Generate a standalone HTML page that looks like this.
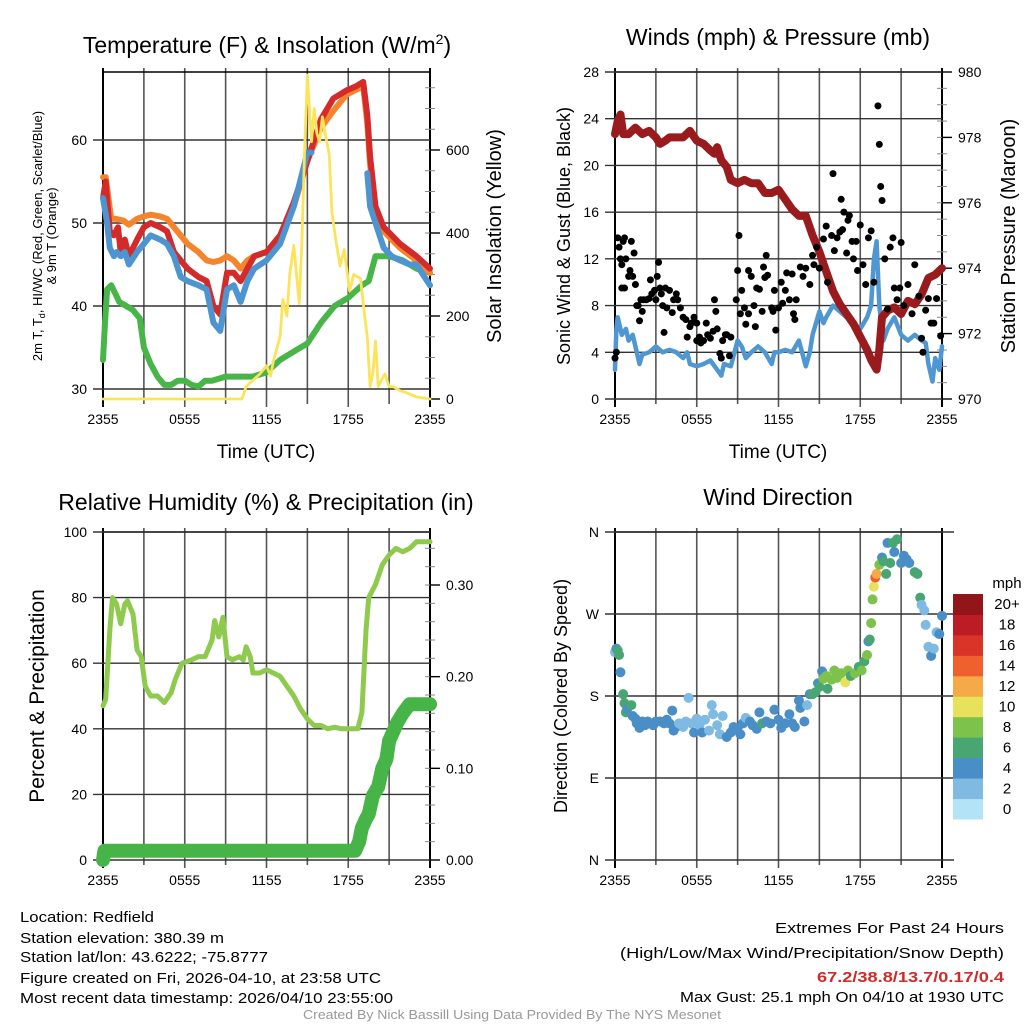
<!DOCTYPE html>
<html><head><meta charset="utf-8"><title>Mesonet Station Meteogram</title>
<style>
html,body{margin:0;padding:0;background:#fff;}
svg{display:block;font-family:"Liberation Sans",sans-serif;}
.nar{font-family:"Liberation Sans Narrow","Liberation Sans",sans-serif;}
</style></head>
<body>
<svg id="fig" width="1024" height="1024" viewBox="0 0 1024 1024" xmlns="http://www.w3.org/2000/svg">
<rect width="1024" height="1024" fill="#fff"/>
<text x="267" y="53" font-size="23" text-anchor="middle">Temperature (F) &amp; Insolation (W/m<tspan font-size="14" dy="-9">2</tspan><tspan dy="9">)</tspan></text>
<text x="778" y="45" font-size="23" text-anchor="middle">Winds (mph) &amp; Pressure (mb)</text>
<text x="266" y="510" font-size="23" text-anchor="middle">Relative Humidity (%) &amp; Precipitation (in)</text>
<text x="778" y="505" font-size="23" text-anchor="middle">Wind Direction</text>

<text transform="translate(42,236) rotate(-90)" font-size="13" text-anchor="middle">2m T, T<tspan font-size="9" dy="3">d</tspan><tspan dy="-3">, HI/WC (Red, Green, Scarlet/Blue)</tspan></text>
<text transform="translate(56,236) rotate(-90)" font-size="13" text-anchor="middle">&amp; 9m T (Orange)</text>
<text transform="translate(501,236) rotate(-90)" font-size="20" text-anchor="middle">Solar Insolation (Yellow)</text>
<text x="266" y="458" font-size="19" text-anchor="middle">Time (UTC)</text>
<text transform="translate(570,236) rotate(-90)" font-size="18" text-anchor="middle">Sonic Wind &amp; Gust (Blue, Black)</text>
<text transform="translate(1015,236) rotate(-90)" font-size="20" text-anchor="middle">Station Pressure (Maroon)</text>
<text x="778" y="458" font-size="19" text-anchor="middle">Time (UTC)</text>
<text transform="translate(44,696) rotate(-90)" font-size="21" text-anchor="middle">Percent &amp; Precipitation</text>
<text transform="translate(567,696) rotate(-90)" font-size="18" text-anchor="middle">Direction (Colored By Speed)</text>
<text x="1007" y="588" font-size="15" text-anchor="middle">mph</text>

<g class="nar" font-size="15">
<text x="20" y="922" textLength="134" lengthAdjust="spacingAndGlyphs">Location: Redfield</text>
<text x="20" y="943" textLength="204" lengthAdjust="spacingAndGlyphs">Station elevation: 380.39 m</text>
<text x="20" y="962" textLength="248" lengthAdjust="spacingAndGlyphs">Station lat/lon: 43.6222; -75.8777</text>
<text x="20" y="983" textLength="361" lengthAdjust="spacingAndGlyphs">Figure created on Fri, 2026-04-10, at 23:58 UTC</text>
<text x="20" y="1003" textLength="373" lengthAdjust="spacingAndGlyphs">Most recent data timestamp: 2026/04/10 23:55:00</text>
</g>
<g class="nar" font-size="15" text-anchor="end">
<text x="1004" y="933" textLength="229" lengthAdjust="spacingAndGlyphs">Extremes For Past 24 Hours</text>
<text x="1004" y="958" textLength="384" lengthAdjust="spacingAndGlyphs">(High/Low/Max Wind/Precipitation/Snow Depth)</text>
<text x="1004" y="982" textLength="187" lengthAdjust="spacingAndGlyphs" fill="#d12a2a" font-weight="bold">67.2/38.8/13.7/0.17/0.4</text>
<text x="1004" y="1002" textLength="324" lengthAdjust="spacingAndGlyphs">Max Gust: 25.1 mph On 04/10 at 1930 UTC</text>
</g>
<text class="nar" x="512" y="1019" font-size="13" fill="#999" text-anchor="middle" textLength="418" lengthAdjust="spacingAndGlyphs">Created By Nick Bassill Using Data Provided By The NYS Mesonet</text>
<g id="plots"></g>
</svg>
<script>
// ---------- DATA ----------
const timeTickLabels = ["2355","0555","1155","1755","2355"];
// Temperature panel
const tRed = [0,0.2,0.5,0.8,1.1,1.3,1.6,1.9,2.5,3.0,3.5,4.2,4.7,5.2,5.7,6.2,7.0,7.6,8.1,8.6,9.1,9.6,10.1,10.6,11.1,12,13,14,15,16,16.9,17.9,18.6,19.1,19.4,19.6,20,20.6,21.2,21.8,23,24];
const vRed = [53,55,49,48.5,49.5,46.5,48,46,48,49.5,50,49.5,49,46.5,45.5,44.5,43.5,43,40,39,44,44,43,44.5,46,46.5,48.5,52.5,57.5,62.5,65,66,66.5,67,63,58,52,49.5,48.5,47.5,46,44.5];
const tOrange = [0,0.2,0.6,0.9,1.5,1.9,2.5,3.0,3.5,4.2,4.7,5.2,5.7,6.2,7.0,7.6,8.1,8.6,9.1,9.6,10.1,10.6,11.1,12,13,14,15,16,16.9,17.9,19.1,19.4,19.6,20,20.6,21.8,23,24];
const vOrange = [55.5,55.5,50.5,50.5,50.3,49.8,50.5,50.8,51,50.8,50.5,49.5,48.5,47.5,46.5,45.5,45.3,45.5,46,45.5,44.5,45.5,46,46.5,48,52,57.5,61.5,63.5,65.5,66.5,62,57,51.5,49,47,45.5,44];
const tBlue = [0,0.3,0.5,0.8,1.0,1.3,1.6,1.9,2.5,3.0,3.5,4.2,4.7,5.2,5.7,6.2,7.0,7.6,8.1,8.6,9.1,9.6,10.1,10.6,11.1,12,13,14,15,15.3,null,19.4,19.6,20,20.6,21.2,21.8,22.5,23,24];
const vBlue = [53,50,47,46,46.5,46,46.5,45,46.5,47.5,48.5,48,47.5,46,43.5,43,42.5,42,38,37,42,42.5,40.5,43,44.5,45.5,47.5,52,58.5,58.5,null,56,52,50,47,46,45.5,45,45,42.5];
const tGreen = [0,0.15,0.3,0.6,0.9,1.2,1.7,2.2,2.7,3.0,3.5,4.0,4.5,5.0,5.5,6.0,6.5,7.0,7.5,8.0,9,10,11,12,13,14,15,16,17,18,19,19.5,20,20.5,21,22,23,24];
const vGreen = [33.5,38,42,42.5,41.5,40.5,40,39.5,38.5,35,33,31.5,30.5,30.5,31,31,30.5,30.3,31,31,31.5,31.5,31.5,32,33.5,34.5,35.5,38,40,41,42.5,43,46,46,46,45.5,44.5,44];
const tSolar = [0,10.2,10.5,11,11.5,12,12.3,12.5,13,13.2,13.5,13.7,14,14.4,14.6,14.8,15,15.3,15.5,15.7,15.9,16.1,16.3,16.6,16.8,17.1,17.4,17.7,18.1,18.4,18.9,19.2,19.4,19.6,19.8,20,20.2,20.5,20.7,21,21.3,21.8,22.3,23,24];
const vSolar = [0,0,30,45,60,80,55,90,150,240,200,300,370,230,380,600,780,620,700,640,620,680,640,590,450,380,320,360,260,300,290,200,150,30,60,140,30,50,60,30,30,20,15,5,0];
// Wind panel
const tWind = [0,0.1,0.2,0.5,0.8,1,1.3,1.5,1.8,2,2.5,3,3.5,4,4.5,5,5.3,5.5,6,6.5,7,7.5,7.8,8,8.5,9,9.3,9.6,10,10.5,11,11.5,11.7,12,12.5,13,13.5,14,14.3,14.5,15,15.3,15.5,16,16.5,17,17.5,18,18.5,18.8,19,19.2,19.4,19.7,20,20.5,21,21.5,22,22.5,22.8,23,23.3,23.5,23.8,24];
const vWind = [2.5,6,7,5.5,6,5,5.5,4.5,3,3.8,4,4.5,4,4.2,4,3.5,4,3,2.8,3,3.3,2.5,2,3,2.8,5,4.5,3.5,4,4.5,4,3,4,4,4.2,4,5,2.8,4,5.5,7.5,6.5,7,8,7.5,7,6.5,6,7,8,12,13.5,8,5,6,7,5.5,5,5.5,5,4.8,3,1.5,3.5,2.5,4.5];
const tPres = [0,0.2,0.4,0.6,1,1.5,2,2.5,3,3.3,3.7,4,4.5,5,5.5,6,6.5,7,7.3,7.5,7.8,8.2,8.5,9,9.5,10,10.5,11,11.5,12,12.5,13,13.5,14,14.5,15,15.5,16,16.5,17,17.5,18,18.5,18.8,19.2,19.4,19.6,20,20.5,21,21.5,22,22.5,23,23.5,24];
const vPres = [978.1,978.5,978.7,978.1,978.1,978.3,978.1,978.2,978.0,977.8,977.9,978.0,978.0,978.0,978.2,977.9,977.8,977.6,977.5,977.7,977.3,977.1,976.7,976.6,976.7,976.6,976.6,976.3,976.3,976.4,976.1,975.8,975.6,975.6,975.0,974.5,973.9,973.3,972.9,972.6,972.3,971.9,971.5,971.2,970.9,971.5,972.5,972.7,972.8,972.6,973.0,972.9,973.2,973.7,973.8,974.0];
const tGust = [0,0.1,0.2,0.3,0.4,0.5,0.6,0.7,0.5,0.7,0.8,1,1.1,1.2,1.3,1.4,1.5,1.6,1.7,1.8,1.9,2,2.1,2.3,2.5,2.6,2.7,2.9,3,3.1,3.2,3.3,3.4,3.5,3.6,3.7,3.8,4,4.2,4.3,4.5,4.6,4.8,5,5.2,5.3,5.5,5.6,5.8,6,6,6.2,6.3,6.5,6.7,6.8,7,7.2,7.3,7.4,7.5,7.7,7.8,7.9,8.1,8.2,8.4,8.5,8.9,9,9.1,9.2,9.3,9.5,9.6,9.8,9.8,10,10.2,10.3,10.4,10.6,10.8,10.9,11,11.1,11.2,11.5,11.6,11.7,11.8,12,12.2,12.3,12.5,12.6,12.8,13,13.1,13.2,13.3,13.6,13.8,14,14.3,14.5,14.6,14.8,15,15.3,15.5,15.6,15.9,16,16.1,16.3,16.5,16.6,16.7,16.8,17,17.1,17.2,17.4,17.5,17.7,17.8,18,18.2,18.4,18.6,18.8,19,19.3,19.4,19.5,19.6,19.8,20,20.2,20.4,20.5,20.7,20.9,21,21.2,21.5,21.8,22,22.3,22.5,22.6,22.8,23,23.2,23.4,23.6,23.9];
const vGust = [3.5,4,13.8,13,12,11.5,13.5,13.8,9.5,9.5,12,10.5,11,13.5,10.5,12.5,9.8,8,8,6.7,8.5,7.5,8.5,8.5,8.6,10.2,9,9.3,8.5,10.5,11.7,9.5,9,8,5.7,9.5,7.8,9.3,7.4,8.5,9,8.5,7.8,7,6.8,5.3,6.2,6.5,7,6.5,5,5.3,4.8,5,6.5,5.5,5.2,5.8,8.5,7.5,6,3.9,3.5,5,5.5,5.5,3.7,5.3,8.5,11,14,7.3,9.3,7.8,6.4,7.3,11,10.5,8,6.2,9.5,9.4,7.5,11.3,10.4,12.3,10.6,7.8,7.5,9.3,5.9,7.8,10,8.2,9.3,10.8,8.5,10.7,7.3,6.8,8.5,11.3,10.5,11.2,9.8,12.3,11.5,13,11.2,13.7,14.8,10,14,19.3,12.7,13.8,14.3,17.1,14.5,16,12.5,15.3,15.7,13.5,12,13.5,11,14.9,11.5,9.8,13.8,14.4,10,25.1,21.8,18.2,17,12,7.7,13,13.8,9.5,8.5,9.5,13.4,8,9.8,7.3,11.5,8.8,5.2,4,7.6,8.6,6.5,6.5,8.6,5.4];
// Humidity panel
const tRH = [0,0.2,0.5,0.7,1,1.3,1.6,1.8,2.2,2.5,2.8,3.1,3.5,4,4.5,5,5.3,5.8,6.5,7,7.5,8,8.2,8.5,8.8,9.1,9.5,10,10.3,10.5,10.8,11,11.5,12,12.5,13,13.5,14,14.5,15,15.5,16,16.5,17,17.5,18,18.7,19,19.3,19.5,20,20.5,21,21.5,22,22.5,23,24];
const vRH = [47,49,70,80,78,72,78,79,75,64,62,53,50,50,48,51,55,60,61,62,62,67,73,68,74,62,61,62,61,65,62,57,57,58,57,56,53,50,46,43,41,41,40,40.5,40,40,40,45,70,80,84,90,93,95,94,95,97,97];
const tPrecip = [0,0.1,18.5,18.8,19,19.3,19.5,19.8,20.2,20.5,20.8,21,21.3,21.6,22,22.5,24];
const vPrecip = [0,0.01,0.01,0.02,0.035,0.045,0.05,0.07,0.08,0.10,0.11,0.13,0.14,0.15,0.16,0.17,0.17];
// Direction panel
const tDir = [0,0.1,0.2,0.3,0.4,0.6,0.7,0.8,0.9,1.2,1.3,1.5,1.6,1.8,2.0,2.2,2.4,2.6,2.8,3.0,3.3,3.6,3.8,4.0,4.2,4.3,4.5,4.7,5.0,5.2,5.4,5.6,5.8,6.0,6.2,6.4,6.6,6.9,7.1,7.2,7.5,7.7,7.9,8.2,8.5,8.7,9.0,9.2,9.4,9.6,9.9,10.1,10.4,10.6,10.8,11.1,11.4,11.7,12.0,12.2,12.5,12.8,13.0,13.2,13.5,13.6,13.9,14.1,14.3,14.5,14.7,14.9,15.0,15.2,15.3,15.5,15.6,15.9,16.1,16.3,16.6,16.9,17.1,17.3,17.6,17.9,18.1,18.3,18.5,18.6,18.7,18.8,18.9,19.0,19.1,19.2,19.4,19.6,19.7,19.9,20.0,20.2,20.4,20.5,20.7,21.0,21.2,21.4,21.6,22.0,22.2,22.4,22.5,22.7,22.8,23.0,23.2,23.4,23.6,23.8,24.0];
const vDir = [228,232,230,225,206,182,172,162,166,170,158,155,150,145,152,148,152,150,148,152,152,150,154,150,164,142,146,150,146,152,178,150,140,155,148,140,154,142,170,160,148,138,158,135,140,146,145,138,150,156,152,148,144,162,150,152,150,165,154,145,150,160,150,146,175,167,152,170,182,182,184,194,190,207,199,202,188,198,208,200,205,195,208,202,205,212,208,218,225,240,242,260,286,300,310,314,324,332,328,314,348,326,348,338,352,326,334,330,326,316,314,288,280,274,258,234,224,232,250,248,268];
const sDir = [2,4,6,6,4,6,6,6,4,6,4,4,4,4,4,4,4,4,4,4,4,4,4,4,4,4,4,2,2,2,2,2,4,2,2,4,2,2,2,2,2,2,2,4,4,4,4,4,4,2,4,4,4,4,6,4,4,4,4,4,4,4,4,4,4,4,4,2,4,6,6,4,6,4,8,8,6,8,8,8,8,10,8,6,8,6,8,6,8,4,6,8,8,10,14,12,8,4,6,6,4,6,6,4,6,4,4,4,4,6,6,6,2,2,2,2,4,2,2,4,4];
const speedBinLabels = ["0","2","4","6","8","10","12","14","16","18","20+"];
const speedBinColors = ["#b3e3f7","#7fbae3","#4a8ec7","#48a673","#7cc24b","#e7e15c","#f5a947","#ee612e","#da3428","#bb1c25","#921519"];

// ---------- HELPERS ----------
const NS = "http://www.w3.org/2000/svg";
const root = document.getElementById('plots');
function mk(tag, attrs, parent){const e=document.createElementNS(NS,tag);for(const k in attrs)e.setAttribute(k,attrs[k]);(parent||root).appendChild(e);return e;}
function xScale(p){return t=>p.x0+t/24*(p.x1-p.x0);}
function lin(v0,v1,p0,p1){return v=>p0+(v-v0)/(v1-v0)*(p1-p0);}
function pathD(ts,vs,xs,ys){let d="",pen=false;for(let i=0;i<ts.length;i++){if(ts[i]===null||vs[i]===null){pen=false;continue;}d+=(pen?"L":"M")+xs(ts[i]).toFixed(1)+","+ys(vs[i]).toFixed(1);pen=true;}return d;}

function frame(p, name, yl, lv, ll, yr, rv, rl, rminor){
  const g=mk('g',{});
  
  
  const xs=xScale(p);
  for(let h=0;h<=24;h+=3){
    const v=mk('line',{x1:xs(h),x2:xs(h),y1:p.y0-4,y2:p.y1+(h%6===0?8:5),stroke:(h===0||h===24)?'#000':'#555','stroke-width':(h===0||h===24)?2:1.6},g);
    
    
  }
  timeTickLabels.forEach((lab,i)=>{
    const t=mk('text',{x:xs(i*6),y:p.y1+25,'font-size':14,'text-anchor':'middle'},g);
    t.textContent=lab;
    
    
  });
  const top=mk('line',{x1:p.x0,x2:p.x1,y1:p.y0,y2:p.y0,stroke:'#000','stroke-width':1.5},g);
  
  
  lv.forEach((v,i)=>{
    const y=yl(v);
    const l=mk('line',{x1:p.x0-10,x2:p.x1+(rv?0:12),y1:y,y2:y,stroke:'#333','stroke-width':1.4},g);
    
    
    const t=mk('text',{x:p.x0-16,y:y+5,'font-size':14,'text-anchor':'end'},g);
    t.textContent=ll[i];
    
    
  });
  if(rv){
    rminor.forEach(v=>{const y=yr(v);const m=mk('line',{x1:p.x1-5,x2:p.x1+5,y1:y,y2:y,stroke:'#888','stroke-width':1},g);
      
      });
    rv.forEach((v,i)=>{
      const y=yr(v);
      const l=mk('line',{x1:p.x1,x2:p.x1+10,y1:y,y2:y,stroke:'#000','stroke-width':1.4},g);
      
      
      const t=mk('text',{x:p.x1+16,y:y+5,'font-size':14},g);
      t.textContent=rl[i];
      
      
    });
  }
  return xs;
}
function line(name,ts,vs,xs,ys,color,w){
  const e=mk('path',{d:pathD(ts,vs,xs,ys),fill:'none',stroke:color,'stroke-width':w,'stroke-linejoin':'round','stroke-linecap':'round'});
  
  
}
function range(a,b,s){const r=[];for(let v=a;v<=b+1e-9;v+=s)r.push(+v.toFixed(4));return r;}

// ---------- TEMPERATURE PANEL ----------
const P1={x0:103,x1:430,y0:72,y1:399};
const yT=lin(30,60,389,140), yS=lin(0,600,399,150);
const x1s=frame(P1,'temperature',yT,[30,40,50,60],["30","40","50","60"],yS,[0,200,400,600],["0","200","400","600"],range(50,750,50));
line('dewpoint-line',tGreen,vGreen,x1s,yT,'#48b548',6);
line('temp-9m-line',tOrange,vOrange,x1s,yT,'#f5852c',6);
line('temp-2m-line',tRed,vRed,x1s,yT,'#d42a2a',6);
line('heat-index-windchill-line',tBlue,vBlue,x1s,yT,'#4d95d0',6);
line('solar-insolation-line',tSolar,vSolar,x1s,yS,'#fbe45a',2.8);

// ---------- WIND PANEL ----------
const P2={x0:615,x1:942,y0:72,y1:399};
const yW=lin(0,28,399,72), yP=lin(970,980,399,72);
const x2s=frame(P2,'wind',yW,[0,4,8,12,16,20,24,28],["0","4","8","12","16","20","24","28"],yP,[970,972,974,976,978,980],["970","972","974","976","978","980"],range(970.5,979.5,0.5));
line('wind-speed-line',tWind,vWind,x2s,yW,'#4f97d2',4.5);
line('pressure-line',tPres,vPres,x2s,yP,'#9a1b1e',8);
tGust.forEach((t,i)=>{
  const c=mk('circle',{cx:x2s(t),cy:yW(vGust[i]),r:3.5,fill:'#000'});
  
  
});

// ---------- HUMIDITY PANEL ----------
const P3={x0:103,x1:430,y0:532,y1:860};
const yRH=lin(0,100,860,532), yPr=lin(0,0.3,860,585);
const x3s=frame(P3,'humidity',yRH,[0,20,40,60,80,100],["0","20","40","60","80","100"],yPr,[0,0.1,0.2,0.3],["0.00","0.10","0.20","0.30"],range(0.02,0.34,0.02));
line('relative-humidity-line',tRH,vRH,x3s,yRH,'#8dca4e',5);
line('precipitation-line',tPrecip,vPrecip,x3s,yPr,'#46b446',14);

// ---------- DIRECTION PANEL ----------
const P4={x0:615,x1:942,y0:532,y1:860};
const yD=lin(0,360,860,532);
const x4s=frame(P4,'direction',yD,[0,90,180,270,360],["N","E","S","W","N"],null,null,null,null);
tDir.forEach((t,i)=>{
  const c=mk('circle',{cx:x4s(t),cy:yD(vDir[i]),r:5,fill:speedBinColors[Math.min(10,Math.floor(sDir[i]/2))]});
  
  
});
// colorbar
const cbG=mk('g',{});


const cbY=lin(0,11,819,594);
speedBinColors.forEach((col,i)=>{
  const r=mk('rect',{x:953,y:cbY(i+1),width:30,height:cbY(i)-cbY(i+1)+0.5,fill:col},cbG);
  
  
  const t=mk('text',{x:1007,y:cbY(i+0.5)+5,'font-size':15,'text-anchor':'middle'},cbG);
  t.textContent=speedBinLabels[i];
  
  
});
</script>
</body></html>
